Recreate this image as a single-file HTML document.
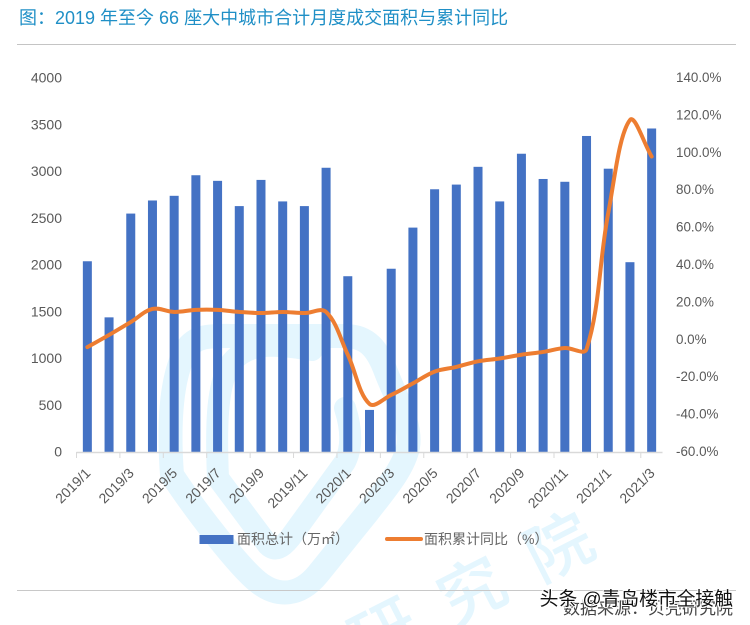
<!DOCTYPE html>
<html lang="zh">
<head>
<meta charset="utf-8">
<title>2019 年至今 66 座大中城市合计月度成交面积与累计同比</title>
<style>
html,body{margin:0;padding:0;background:#fff;overflow:hidden;}
body{width:750px;height:625px;position:relative;}
#wm-clip{position:absolute;left:0;top:0;width:750px;height:625px;overflow:hidden;filter:blur(0.35px);}
#wm-clip span{position:absolute;width:70px;height:50px;line-height:50px;text-align:center;font-family:"Noto Sans CJK SC",sans-serif;font-size:66px;font-weight:500;color:#e4f6fe;transform:rotate(-27deg);}
#wm-clip span.cut{width:4px;height:2px;line-height:38px;text-align:left;text-indent:-31px;white-space:nowrap;}
svg#chart{position:absolute;left:0;top:0;display:block;filter:blur(0.35px);}
text{font-family:"Liberation Sans","Noto Sans CJK SC",sans-serif;}
</style>
</head>
<body>
<div id="wm-clip">
  <span class="cut" style="left:372px;top:612px;">研</span>
  <span style="left:435px;top:562px;">究</span>
  <span style="left:522px;top:518px;">院</span>
</div>
<svg id="chart" xmlns="http://www.w3.org/2000/svg" width="750" height="625" viewBox="0 0 750 625">
  <g fill="none" stroke="#e4f6fe">
    <path stroke-width="24" stroke-linejoin="round" d="M172,475 C168,420 172,375 186,350 C196,334 212,336 240,336 L345,336 C368,336 378,350 386,372 C396,398 412,425 408,447 C404,468 385,490 368,512 L318,574 C300,596 278,598 258,582 C238,566 195,510 172,475 Z"/>
    <path stroke-width="22" stroke-linecap="round" stroke-linejoin="round" d="M312,350 C280,345 250,340 232,362 C216,382 216,430 218,478 L268,545 C275,552 282,548 290,538 L345,462 C352,448 352,430 345,408"/>
  </g>

  <text x="19" y="24" font-size="18" fill="#1f8fc6">图&#xFF1A;2019 年至今 66 座大中城市合计月度成交面积与累计同比</text>
  <line x1="17" y1="44.5" x2="736" y2="44.5" stroke="#c4c4c4" stroke-width="1"/>
  <line x1="17" y1="590.5" x2="736" y2="590.5" stroke="#c8c8c8" stroke-width="1"/>

  <g id="bars"></g>
  <g id="xaxis"></g>
  <g id="yleft"></g>
  <g id="yright"></g>
  <path id="yoy-line" fill="none" stroke="#ed7d31" stroke-width="4" stroke-linecap="round" stroke-linejoin="round"/>

  <g>
    <rect x="199.5" y="535" width="34" height="9" fill="#4472c4"/>
    <text x="237" y="544" font-size="14" fill="#666">面积总计&#xFF08;万㎡&#xFF09;</text>
    <line x1="387" y1="539" x2="421" y2="539" stroke="#ed7d31" stroke-width="4" stroke-linecap="round"/>
    <text x="424" y="544" font-size="14" fill="#666">面积累计同比&#xFF08;%&#xFF09;</text>
  </g>

  <text x="733" y="614" font-size="17" fill="#444" text-anchor="end">数据来源&#xFF1A;贝壳研究院</text>
  <text x="733" y="605" font-size="18.8" fill="#111" text-anchor="end" stroke="#fff" stroke-width="2" paint-order="stroke">头条 @青岛楼市全接触</text>
</svg>
<script>
const categories = ["2019/1","2019/2","2019/3","2019/4","2019/5","2019/6","2019/7","2019/8","2019/9","2019/10","2019/11","2019/12","2020/1","2020/2","2020/3","2020/4","2020/5","2020/6","2020/7","2020/8","2020/9","2020/10","2020/11","2020/12","2021/1","2021/2","2021/3"];
const areaValues = [2040,1440,2550,2690,2740,2960,2900,2630,2910,2680,2630,3040,1880,450,1960,2400,2810,2860,3050,2680,3190,2920,2890,3380,3030,2030,3460];
const yoyValues = [-3.9,2.6,9.5,16.5,14.9,16,16,14.9,14.3,14.9,14.3,14.9,-8,-34.3,-29.5,-23.3,-17,-14.5,-11.5,-10,-8,-6.5,-4.4,-5,67.8,117.5,98];
const leftTicks = [0,500,1000,1500,2000,2500,3000,3500,4000];
const rightTicks = [-60,-40,-20,0,20,40,60,80,100,120,140];

const NS = 'http://www.w3.org/2000/svg';
const plotLeft = 76.5, plotRight = 662.5, plotBottom = 452, plotTop = 78;
const slot = (plotRight - plotLeft) / categories.length;
const xCenter = i => plotLeft + (i + 0.5) * slot;
const yLeft = v => plotBottom - (v / 4000) * (plotBottom - plotTop);
const yRight = v => plotBottom - ((v + 60) / 200) * (plotBottom - plotTop);

function make(tag, attrs, parent, content) {
  const el = document.createElementNS(NS, tag);
  for (const k in attrs) el.setAttribute(k, attrs[k]);
  if (content !== undefined) el.textContent = content;
  parent.appendChild(el);
  return el;
}

const barsGroup = document.getElementById('bars');
areaValues.forEach((v, i) => {
  const top = yLeft(v);
  const bar = make('rect', {x: xCenter(i) - 4.5, y: top, width: 9, height: plotBottom - top, fill: '#4472c4'}, barsGroup);
  
  
});

const xGroup = document.getElementById('xaxis');
const axisLine = make('line', {x1: plotLeft, y1: plotBottom + 0.5, x2: plotRight, y2: plotBottom + 0.5, stroke: '#d9d9d9', 'stroke-width': 1.5}, xGroup);


categories.forEach((c, i) => {
  if (i % 2 !== 0) return;
  const tx = plotLeft + i * slot;
  const tick = make('line', {x1: tx, y1: plotBottom, x2: tx, y2: plotBottom + 6, stroke: '#d9d9d9', 'stroke-width': 1}, xGroup);
  
  
  const ex = xCenter(i) + 4, ey = plotBottom + 22;
  const label = make('text', {transform: 'translate(' + ex + ',' + ey + ') rotate(-45)', 'font-size': 14, fill: '#595959', 'text-anchor': 'end'}, xGroup, c);
  
  
});

const leftGroup = document.getElementById('yleft');
leftTicks.forEach(v => {
  const label = make('text', {x: 62, y: yLeft(v) + 4.5, 'font-size': 14, fill: '#595959', 'text-anchor': 'end'}, leftGroup, String(v));
  
  
});

const rightGroup = document.getElementById('yright');
rightTicks.forEach(v => {
  const label = make('text', {x: 676, y: yRight(v) + 4, 'font-size': 13.4, fill: '#595959'}, rightGroup, v.toFixed(1) + '%');
  
  
});

const pts = yoyValues.map((v, i) => [xCenter(i), yRight(v)]);
const dist = (a, b) => Math.hypot(a[0] - b[0], a[1] - b[1]);
const handleScale = 0.36;
let d = 'M' + pts[0][0].toFixed(2) + ',' + pts[0][1].toFixed(2);
for (let i = 0; i < pts.length - 1; i++) {
  const p0 = pts[Math.max(i - 1, 0)], p1 = pts[i], p2 = pts[i + 1], p3 = pts[Math.min(i + 2, pts.length - 1)];
  const seg = dist(p1, p2);
  const k1 = handleScale * seg / (dist(p0, p1) + seg);
  const k2 = handleScale * seg / (seg + dist(p2, p3));
  const c1x = p1[0] + (p2[0] - p0[0]) * k1, c1y = p1[1] + (p2[1] - p0[1]) * k1;
  const c2x = p2[0] - (p3[0] - p1[0]) * k2, c2y = p2[1] - (p3[1] - p1[1]) * k2;
  d += ' C' + c1x.toFixed(2) + ',' + c1y.toFixed(2) + ' ' + c2x.toFixed(2) + ',' + c2y.toFixed(2) + ' ' + p2[0].toFixed(2) + ',' + p2[1].toFixed(2);
}
document.getElementById('yoy-line').setAttribute('d', d);
</script>
</body>
</html>
